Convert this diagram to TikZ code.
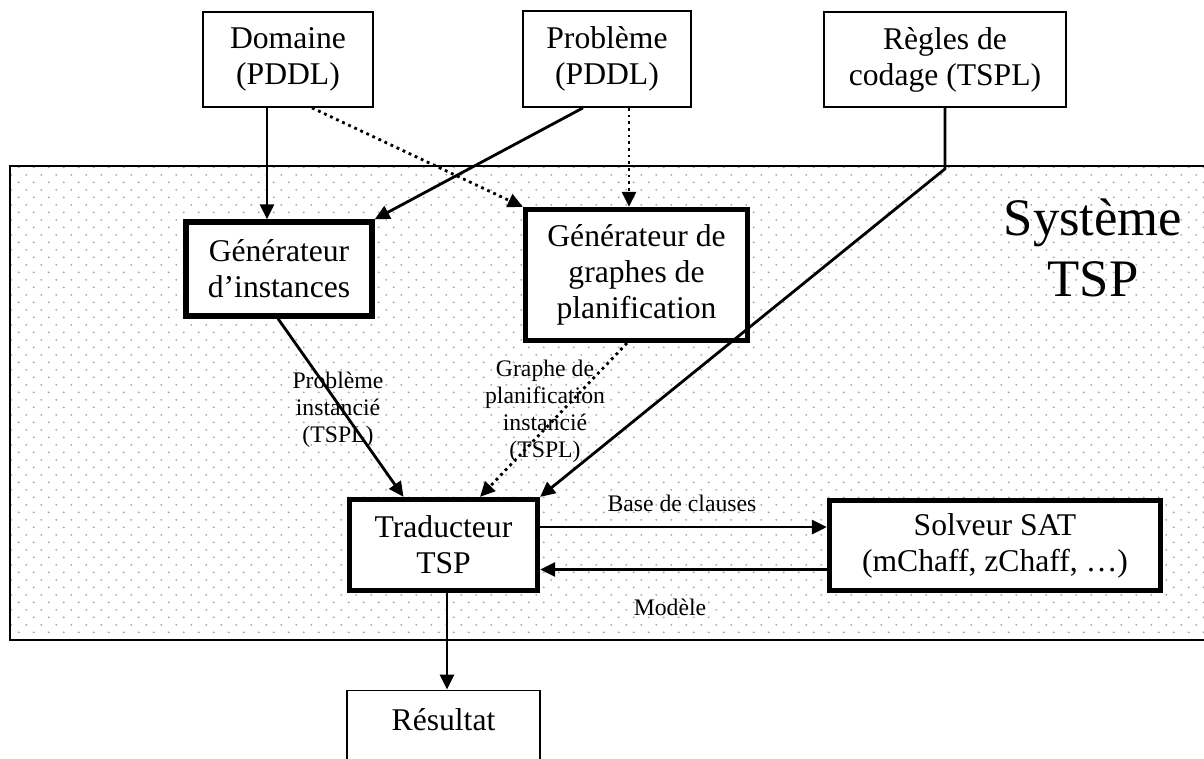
\documentclass[tikz,border=0pt]{standalone}
\usepackage{fontspec}
\setmainfont{Liberation Serif}
\usetikzlibrary{arrows.meta,patterns.meta}
\tikzdeclarepattern{
  name=sysdots,
  type=uncolored,
  bounding box={(0mm,0mm) and (3mm,3.08mm)},
  tile size={(3mm,3.08mm)},
  code={
    \fill (0.75mm,0.77mm) circle [radius=0.6pt];
    \fill (2.25mm,2.31mm) circle [radius=0.6pt];
  }
}
\tikzset{
  thinbox/.style={draw, line width=1pt, fill=white, align=center, inner sep=2pt,
    font=\fontsize{18}{20.5}\selectfont},
  thickbox/.style={thinbox, line width=3pt},
  lbl/.style={align=center, inner sep=0pt, font=\fontsize{13.5}{15.4}\selectfont},
  arr/.style={line width=1.6pt, -{Triangle[length=0.3cm,width=0.28cm]}},
  dotarr/.style={arr, dash pattern=on 1.6pt off 2.2pt}
}
\begin{document}
\begin{tikzpicture}[x=0.02cm, y=-0.02cm]
			%%%%% START %%%%%
			\useasboundingbox (0, 0) rectangle (1204, 758);
			
			\draw[line width=1.2pt, pattern=sysdots, pattern color=black!35] (10, 166) rectangle (1230, 640);
			\node[font=\fontsize{30}{34.5}\selectfont, align=center] (sys) at (1093, 248) {Système\\TSP};
			
			\node[thinbox, minimum width=3.4cm, minimum height=1.9cm] (dom) at (288, 59.5) {Domaine\\(PDDL)};
			\node[thinbox, minimum width=3.36cm, minimum height=1.92cm] (prob) at (607, 59) {Problème\\(PDDL)};
			\node[thinbox, minimum width=4.84cm, minimum height=1.9cm] (regles) at (945, 59.5) {Règles de\\codage (TSPL)};
			
			\node[thickbox, minimum width=3.72cm, minimum height=1.88cm] (ginst) at (279, 269) {Générateur\\d’instances};
			\node[thickbox, minimum width=4.44cm, minimum height=2.62cm] (ggraph) at (636.5, 275) {Générateur de\\graphes de\\planification};
			
			\node[thickbox, minimum width=3.76cm, minimum height=1.82cm] (trad) at (443.5, 545) {Traducteur\\TSP};
			\node[thickbox, minimum width=6.62cm, minimum height=1.8cm] (solv) at (995, 545.5) {Solveur SAT\\(mChaff, zChaff, …)};
			
			\node[thinbox, anchor=north, minimum width=3.86cm, minimum height=1.9cm, text height=0.45cm, text depth=0.75cm] (res) at (443.5, 689.5) {Résultat};
			
			\node[lbl] (lblprob) at (338, 410) {Problème\\instancié\\(TSPL)};
			\node[lbl] (lblgraph) at (545, 411) {Graphe de\\planification\\instancié\\(TSPL)};
			\node[lbl] (lblbase) at (682, 503) {Base de clauses};
			\node[lbl] (lblmod) at (670, 607) {Modèle};
			
			\draw[arr] ([xshift=-0.42cm]dom.south) -- ([xshift=-0.42cm]dom.south |- ginst.north);
			\draw[dotarr] ([xshift=0.48cm]dom.south) -- (ggraph.north west);
			\draw[arr] ([xshift=-0.48cm]prob.south) -- (ginst.north east);
			\draw[dotarr] ([xshift=0.44cm]prob.south) -- ([xshift=0.44cm]prob.south |- ggraph.north);
			\draw[arr] (regles.south) -- ([yshift=-1.22cm]regles.south) -- (trad.north east);
			
			\draw[arr] ([xshift=-0.02cm]ginst.south) -- ([xshift=-0.8cm]trad.north);
			\draw[dotarr] ([xshift=-0.19cm]ggraph.south) -- ([xshift=0.73cm]trad.north);
			
			\draw[arr] ([yshift=0.36cm]trad.east) -- ([yshift=0.36cm]trad.east -| solv.west);
			\draw[arr] ([yshift=-0.48cm]solv.west) -- ([yshift=-0.48cm]solv.west -| trad.east);
			\draw[arr] ([xshift=0.07cm]trad.south) -- ([xshift=0.07cm]res.north);
			%%%%% END %%%%%
\end{tikzpicture}
\end{document}
